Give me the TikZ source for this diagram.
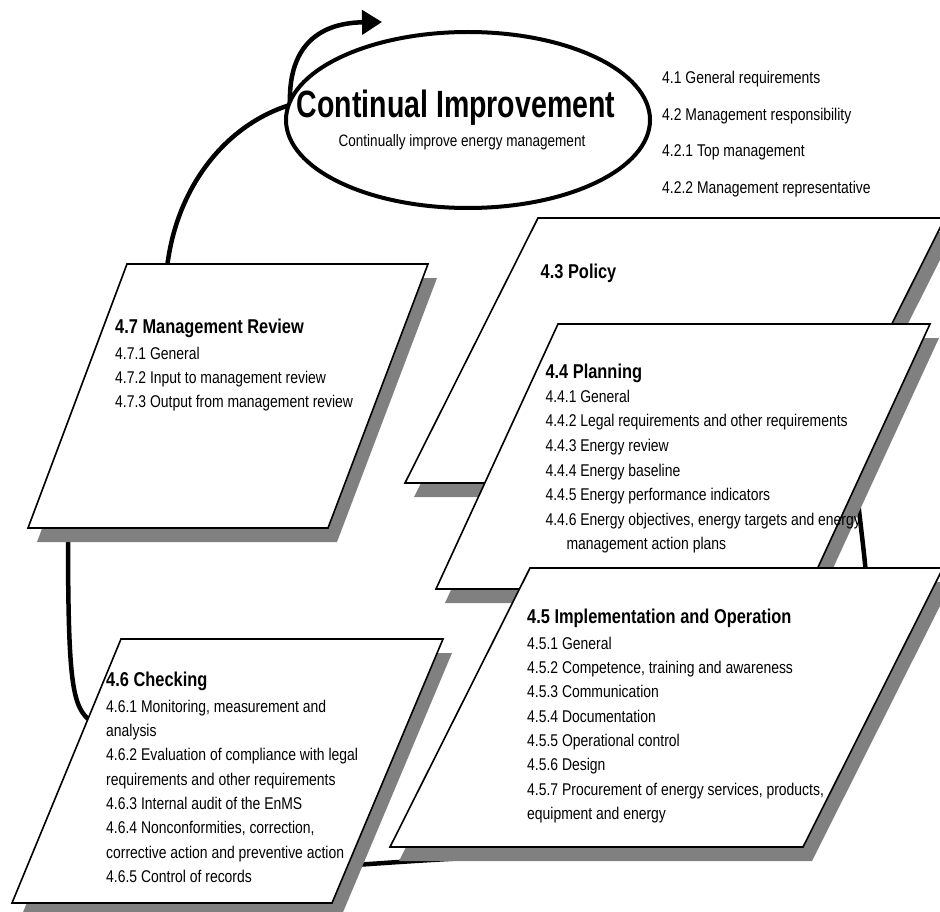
\documentclass[tikz,border=0pt]{standalone}
\usepackage{fontspec}
\setmainfont{Liberation Sans}
\newfontfamily\nar[FakeStretch=0.82]{Liberation Sans}
\newfontfamily\narT[FakeStretch=0.75]{Liberation Sans}
\usetikzlibrary{arrows.meta,shapes.geometric}
\newcommand\mypgshadow[1]{\fill[shadowbox] ([shift={(9,14)}]#1A) -- ([shift={(9,14)}]#1B) -- ([shift={(9,14)}]#1C) -- ([shift={(9,14)}]#1D) -- cycle;}
\newcommand\mypgbox[1]{\draw[box] (#1A) -- (#1B) -- (#1C) -- (#1D) -- cycle;}
\begin{document}
\begin{tikzpicture}[x=1pt,y=-1pt,
  box/.style={fill=white,draw=black,line width=1.6pt,line join=miter},
  shadowbox/.style={fill=black!50,draw=none},
  conn/.style={line width=4.5pt,line cap=round,draw=black},
  item/.style={anchor=base west,inner sep=0pt,font=\nar\fontsize{17}{20}\selectfont},
  ttl/.style={anchor=base west,inner sep=0pt,font=\nar\bfseries\fontsize{20}{24}\selectfont}]
\useasboundingbox[fill=white] (0,0) rectangle (940,912);
\clip (0,0) rectangle (940,912);
% corners
\coordinate (mrA) at (127,264); \coordinate (mrB) at (428,264);
\coordinate (mrC) at (328,528); \coordinate (mrD) at (28,528);
\coordinate (poA) at (538,218); \coordinate (poB) at (945,218);
\coordinate (poC) at (812,483); \coordinate (poD) at (405,483);
\coordinate (plA) at (558,324); \coordinate (plB) at (930,324);
\coordinate (plC) at (808,589); \coordinate (plD) at (436,589);
\coordinate (chA) at (121,639); \coordinate (chB) at (443,639);
\coordinate (chC) at (332,903); \coordinate (chD) at (12,903);
\coordinate (imA) at (530,568); \coordinate (imB) at (943,568);
\coordinate (imC) at (803,847); \coordinate (imD) at (390,847);
% connector ends
\coordinate (mrtop) at (167,268);
\coordinate (cijoin) at (290,105);
\coordinate (arrowtip) at (382,22);
\coordinate (mrbot) at (68,530);
\coordinate (chleft) at (92,722);
\coordinate (chright) at (340,866);
\coordinate (imbot) at (540,855);
\coordinate (plright) at (857,492);
\coordinate (imtop) at (866,575);
% connectors
\draw[conn,-{Triangle[length=20pt,width=24pt]}] (mrtop) .. controls (176,188) and (225,125) .. (cijoin) .. controls (288,50) and (315,23) .. (arrowtip);
\draw[conn] (mrbot) .. controls (68,685) and (72,708) .. (chleft);
\draw[conn] (chright) .. controls (400,862) and (450,858) .. (imbot);
\draw[conn] (plright) .. controls (861,530) and (864,550) .. (imtop);
% boxes
\mypgshadow{mr} \mypgbox{mr}
\mypgshadow{po} \mypgbox{po}
\mypgshadow{pl} \mypgbox{pl}
\mypgshadow{ch} \mypgbox{ch}
\mypgshadow{im} \mypgbox{im}
% ellipse
\node[draw,ellipse,line width=4pt,fill=white,minimum width=364pt,minimum height=176pt,inner sep=0pt] (ci) at (468,120) {};
\node[anchor=base,inner sep=0pt,font=\narT\bfseries\fontsize{38}{40}\selectfont] (cititle) at (456,118) {Continual Improvement};
\node[anchor=base,inner sep=0pt,font=\nar\fontsize{16.5}{20}\selectfont] (cisub) at (462,146.7) {Continually improve energy management};
% general list
\node[item] (g1) at (662,83.3) {4.1 General requirements};
\node[item] (g2) at (662,120.7) {4.2 Management responsibility};
\node[item] (g3) at (662,156.7) {4.2.1 Top management};
\node[item] (g4) at (662,193.3) {4.2.2 Management representative};
% 4.7
\node[ttl] (t47) at (115,333.3) {4.7 Management Review};
\node[item] (i471) at (115,359.3) {4.7.1 General};
\node[item] (i472) at (115,383.3) {4.7.2 Input to management review};
\node[item] (i473) at (115,407.3) {4.7.3 Output from management review};
% 4.3
\node[ttl] (t43) at (540.5,278.3) {4.3 Policy};
% 4.4
\node[ttl] (t44) at (545.3,378.3) {4.4 Planning};
\node[item] (i441) at (545.3,402.7) {4.4.1 General};
\node[item] (i442) at (545.3,426.7) {4.4.2 Legal requirements and other requirements};
\node[item] (i443) at (545.3,451.7) {4.4.3 Energy review};
\node[item] (i444) at (545.3,476) {4.4.4 Energy baseline};
\node[item] (i445) at (545.3,500.7) {4.4.5 Energy performance indicators};
\node[item] (i446) at (545.3,525) {4.4.6 Energy objectives, energy targets and energy};
\node[item] (i446b) at (566.3,549.3) {management action plans};
% 4.5
\node[ttl] (t45) at (527,623.3) {4.5 Implementation and Operation};
\node[item] (i451) at (527,649.3) {4.5.1 General};
\node[item] (i452) at (527,673.3) {4.5.2 Competence, training and awareness};
\node[item] (i453) at (527,697.3) {4.5.3 Communication};
\node[item] (i454) at (527,722) {4.5.4 Documentation};
\node[item] (i455) at (527,746.7) {4.5.5 Operational control};
\node[item] (i456) at (527,770.7) {4.5.6 Design};
\node[item] (i457) at (527,795) {4.5.7 Procurement of energy services, products,};
\node[item] (i457b) at (527,819.3) {equipment and energy};
% 4.6
\node[ttl] (t46) at (106,686.7) {4.6 Checking};
\node[item] (i461) at (106,712.7) {4.6.1 Monitoring, measurement and};
\node[item] (i461b) at (106,736.7) {analysis};
\node[item] (i462) at (106,760.7) {4.6.2 Evaluation of compliance with legal};
\node[item] (i462b) at (106,785) {requirements and other requirements};
\node[item] (i463) at (106,809.3) {4.6.3 Internal audit of the EnMS};
\node[item] (i464) at (106,833.3) {4.6.4 Nonconformities, correction,};
\node[item] (i464b) at (106,858.3) {corrective action and preventive action};
\node[item] (i465) at (106,882.7) {4.6.5 Control of records};
\end{tikzpicture}
\end{document}
